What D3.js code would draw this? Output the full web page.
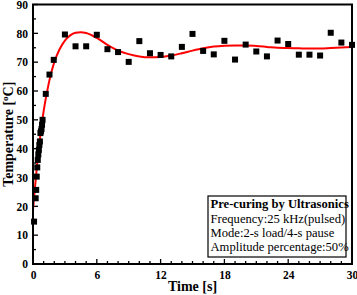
<!DOCTYPE html>
<html><head><meta charset="utf-8">
<script src="https://cdn.jsdelivr.net/npm/d3@7"></script>
<style>body{margin:0;background:#fff}svg{display:block}text{font-family:"Liberation Serif","Times New Roman",serif}</style>
</head><body>
<script>
const pointTimes = [0.1,0.25,0.3,0.35,0.4,0.45,0.5,0.55,0.6,0.65,0.7,0.75,0.8,0.85,0.9,1.2,1.55,1.95,
  3,4,5,6,7,8,9,10,11,12,13,14,15,16,17,18,19,20,21,22,23,24,25,26,27,28,29,30];
const pointTemps = [14.7,22.8,25.7,30.3,33.5,36.1,38.0,39.6,41.3,42.5,45.4,46.0,46.8,48.3,50.0,59.0,65.7,70.8,
  79.6,75.5,75.5,79.5,74.5,73.5,70.1,77.3,73.1,72.5,72.0,75.3,79.8,73.9,72.7,77.4,70.9,76.1,73.7,72.0,77.5,76.3,72.6,72.6,72.3,80.2,76.8,76.0];
const fitTimes = [0,0.5,1,1.5,2,2.5,3,3.5,4,4.5,5,6,7,8,9,10,11,12,13,14,15,16,17,18,19,20,21,22,23,24,25,26,27,28,29,30];
const fitTemps = [18.8,38.5,53,63,70,74.5,77.5,79.3,80.2,80.4,80.1,78.4,76.0,74.0,72.8,72.0,71.7,71.8,72.3,73.1,74.0,74.8,75.4,75.7,75.8,75.8,75.6,75.3,75.0,74.9,74.8,74.7,74.7,74.9,75.1,75.3];
const xTicks = [0,6,12,18,24,30];
const yTicks = [0,10,20,30,40,50,60,70,80,90];
const legendTitle = "Pre-curing by Ultrasonics";
const legendLines = ["Frequency:25 kHz(pulsed)","Mode:2-s load/4-s pause","Amplitude percentage:50%"];

const W=357,H=295, L=33, R=352, T=4.5, B=264;
const svg=d3.select("body").append("svg").attr("width",W).attr("height",H);
const x=d3.scaleLinear().domain([0,30]).range([L,R]);
const y=d3.scaleLinear().domain([0,90]).range([B,T]);

const g=svg.append("g");
g.selectAll(".mx").data(d3.range(0,31,1)).join("line")
  .attr("x1",d=>x(d)).attr("x2",d=>x(d)).attr("y1",B).attr("y2",d=>B-(d%6===0?5:3))
  .attr("stroke","#000").attr("stroke-width",1.3);
g.selectAll(".my").data(d3.range(0,91,5)).join("line")
  .attr("y1",d=>y(d)).attr("y2",d=>y(d)).attr("x1",L).attr("x2",d=>L+(d%10===0?5:3))
  .attr("stroke","#000").attr("stroke-width",1.3);

const xa=svg.append("g").attr("transform",`translate(0,${B})`).call(d3.axisBottom(x).tickValues(xTicks).tickSize(0).tickPadding(7));
xa.select(".domain").remove();
xa.selectAll("text").attr("font-size",11.5).attr("font-weight","bold").attr("font-family","Liberation Serif");
const ya=svg.append("g").attr("transform",`translate(${L},0)`).call(d3.axisLeft(y).tickValues(yTicks).tickSize(0).tickPadding(5));
ya.select(".domain").remove();
ya.selectAll("text").attr("font-size",11.5).attr("font-weight","bold").attr("font-family","Liberation Serif");

const line=d3.line().x((d,i)=>x(fitTimes[i])).y((d,i)=>y(fitTemps[i])).curve(d3.curveMonotoneX);
svg.append("path").datum(fitTemps).attr("d",line).attr("fill","none").attr("stroke","#ff0000").attr("stroke-width",2);

const s=6;
svg.selectAll(".pt").data(pointTemps).join("rect")
  .attr("x",(d,i)=>x(pointTimes[i])-s/2).attr("y",d=>y(d)-s/2).attr("width",s).attr("height",s).attr("fill","#000");

svg.append("rect").attr("x",L).attr("y",T).attr("width",R-L).attr("height",B-T)
  .attr("fill","none").attr("stroke","#000").attr("stroke-width",2);

svg.append("text").attr("x",(L+R)/2).attr("y",291).attr("text-anchor","middle")
  .attr("font-size",14).attr("font-weight","bold").text("Time [s]");
const yt=svg.append("text").attr("transform",`translate(13,${(T+B)/2}) rotate(-90)`).attr("text-anchor","middle")
  .attr("font-size",14).attr("font-weight","bold");
yt.append("tspan").text("Temperature [");
yt.append("tspan").attr("font-size",9).attr("dy",-5).text("o");
yt.append("tspan").attr("dy",5).text("C]");

const lg=svg.append("g");
lg.append("rect").attr("x",208).attr("y",196).attr("width",138).attr("height",61)
  .attr("fill","#fff").attr("stroke","#000").attr("stroke-width",1.2);
lg.append("text").attr("x",210.5).attr("y",207.5).attr("font-size",12.6).attr("font-weight","bold").text(legendTitle);
legendLines.forEach((t,i)=>lg.append("text").attr("x",210.5).attr("y",222.5+i*14.3).attr("font-size",12.6).text(t));
</script>
</body></html>
